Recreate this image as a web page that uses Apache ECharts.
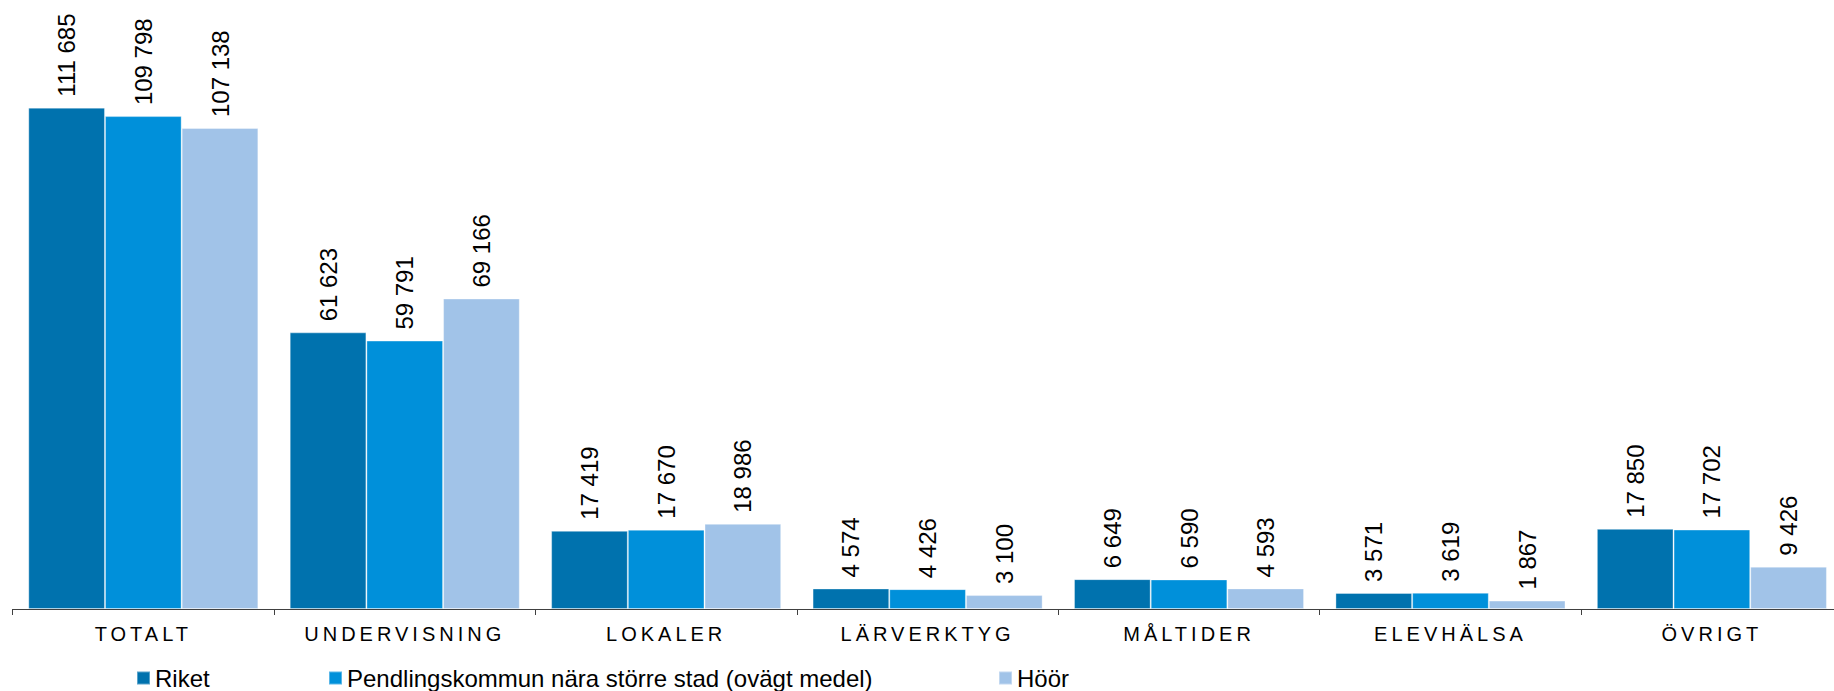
<!DOCTYPE html>
<html>
<head>
<meta charset="utf-8">
<script src="https://cdn.jsdelivr.net/npm/echarts@6/dist/echarts.min.js"></script>
<style>
html,body{margin:0;padding:0;background:#fff;overflow:hidden;width:1834px;height:691px;}
#chart{width:1846px;height:691px;}
</style>
</head>
<body>
<div id="chart"></div>
<script>
const categories = ['TOTALT', 'UNDERVISNING', 'LOKALER', 'LÄRVERKTYG', 'MÅLTIDER', 'ELEVHÄLSA', 'ÖVRIGT'];
const seriesNames = ['Riket', 'Pendlingskommun nära större stad (ovägt medel)', 'Höör'];
const riket = [111685, 61623, 17419, 4574, 6649, 3571, 17850];
const pendling = [109798, 59791, 17670, 4426, 6590, 3619, 17702];
const hoor = [107138, 69166, 18986, 3100, 4593, 1867, 9426];
const colors = ['#0072AE', '#0090DA', '#A1C3E8'];

const FONT = '"Liberation Sans", Arial, "DejaVu Sans", sans-serif';
const fmt = v => String(v).replace(/\B(?=(\d{3})+(?!\d))/g, ' ');

const chart = echarts.init(document.getElementById('chart'), null, {renderer: 'svg'});

function mkSeries(name, data, color) {
  return {
    name: name,
    type: 'bar',
    data: data,
    barGap: '0%',
    barCategoryGap: '12%',
    itemStyle: {color: color, borderColor: 'rgba(255,255,255,0.35)', borderWidth: 1},
    label: {
      show: true,
      position: 'top',
      rotate: 90,
      align: 'left',
      verticalAlign: 'middle',
      distance: 11,
      color: '#000',
      fontSize: 24,
      fontFamily: FONT,
      formatter: p => fmt(p.value)
    }
  };
}

const legendLefts = [136, 328, 998];

chart.setOption({
  animation: false,
  backgroundColor: '#fff',
  grid: {left: 12.6, width: 1830, top: 70.3, height: 538.7},
  legend: seriesNames.map((n, i) => ({
    data: [n],
    left: legendLefts[i],
    top: 666,
    padding: 0,
    itemWidth: 13,
    itemHeight: 13,
    itemGap: 5,
    icon: 'rect',
    textStyle: {fontSize: 24, fontFamily: FONT, color: '#000', padding: [0, 0, 0, 0]},
    selectedMode: false
  })),
  xAxis: {
    type: 'category',
    data: categories,
    axisLine: {lineStyle: {color: '#404040', width: 1}},
    axisTick: {show: true, length: 6, lineStyle: {color: '#404040'}},
    axisLabel: {fontSize: 20, fontFamily: FONT, color: '#000', margin: 15}
  },
  yAxis: {
    type: 'value',
    min: 0,
    max: 120000,
    show: false,
    splitLine: {show: false}
  },
  series: [
    mkSeries(seriesNames[0], riket, colors[0]),
    mkSeries(seriesNames[1], pendling, colors[1]),
    mkSeries(seriesNames[2], hoor, colors[2])
  ]
});

function spaceLabels() {
  document.querySelectorAll('#chart text').forEach(t => {
    if (categories.indexOf(t.textContent.trim()) >= 0) {
      t.setAttribute('letter-spacing', '4');
      t.style.letterSpacing = '4px';
    }
  });
}
spaceLabels();
chart.on('finished', spaceLabels);
setTimeout(spaceLabels, 50);
</script>
</body>
</html>
